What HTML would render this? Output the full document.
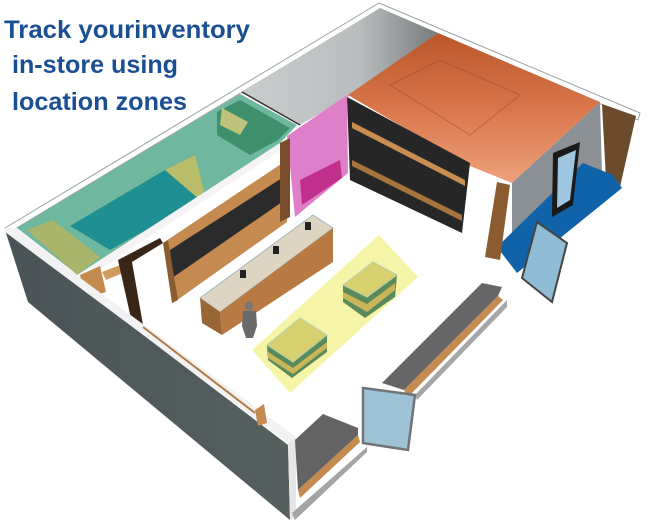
<!DOCTYPE html>
<html><head><meta charset="utf-8"><style>
html,body{margin:0;padding:0;background:#fff;width:648px;height:527px;overflow:hidden}
svg{display:block}
text{font-family:"Liberation Sans",sans-serif;font-weight:bold;fill:#1a4f94}
</style></head><body>
<svg width="648" height="527" viewBox="0 0 648 527" xmlns="http://www.w3.org/2000/svg">
<defs>
<linearGradient id="gw" x1="0" y1="0" x2="1" y2="0"><stop offset="0" stop-color="#c9cdcd"/><stop offset="0.6" stop-color="#b9bdbd"/><stop offset="1" stop-color="#767b7b"/></linearGradient>
<linearGradient id="go" x1="0" y1="0" x2="0" y2="1"><stop offset="0" stop-color="#b9562a"/><stop offset="0.5" stop-color="#d8764a"/><stop offset="1" stop-color="#eea07c"/></linearGradient>
<linearGradient id="glw" x1="0" y1="0" x2="1" y2="0"><stop offset="0" stop-color="#4a5356"/><stop offset="1" stop-color="#56605f"/></linearGradient>
</defs>
<!-- outer rim -->
<polygon points="5,228 379,3 640,113 638,120 380,9 10,232" fill="#fff" stroke="#9aa0a0" stroke-width="1"/>
<!-- storage gray -->
<polygon points="242,92 380,8 438,33 348,97 300,125" fill="url(#gw)"/>
<line x1="242" y1="92" x2="300" y2="125" stroke="#333" stroke-width="1.5"/>
<!-- green zone -->
<polygon points="17,228 240,94 297,125 280,143 78,275" fill="#6fb79e"/>
<polygon points="217,112 240,100 290,128 278,140 250,155 217,135" fill="#3e8f6c"/>
<polygon points="27,230 53,220 100,257 77,275" fill="#a8b56a"/>
<polygon points="70,226 165,170 200,186 200,200 110,250" fill="#1f8f92"/>
<polygon points="165,170 195,155 205,195 200,200" fill="#b9bd6a"/>
<polygon points="222,108 248,122 240,135 220,125" fill="#bfc27a"/>
<!-- partition strip -->
<polygon points="77,275 280,143 286,147 83,280" fill="#f4f4f4"/>
<!-- pink -->
<polygon points="287,136 347,95 348,173 295,217" fill="#e07fc9"/>
<polygon points="300,180 340,160 342,178 302,205" fill="#c0308a"/>
<!-- orange -->
<polygon points="348,95 438,33 600,102 512,183 470,166" fill="url(#go)"/>
<polygon points="390,85 440,60 520,95 470,135" fill="none" stroke="#9e4a24" stroke-width="1" opacity="0.5"/>
<!-- black panel -->
<polygon points="347,97 470,163 462,233 350,180" fill="#262626"/>
<polygon points="352,122 465,180 465,186 352,128" fill="#c98e52"/>
<polygon points="352,160 462,215 462,221 352,166" fill="#a8733f"/>
<!-- gray right wall -->
<polygon points="512,183 600,102 602,175 512,245" fill="#8b9094"/>
<polygon points="602,104 636,116 620,187 606,180" fill="#6b4b2c"/>
<!-- blue -->
<polygon points="497,247 583,163 613,175 622,188 517,273" fill="#1063a8"/>
<polygon points="553,153 580,142 573,205 552,217" fill="#1a1a1a"/>
<polygon points="558,158 576,150 570,200 557,208" fill="#9ec6e0"/>
<!-- wood pillar -->
<polygon points="485,257 497,182 510,185 500,260" fill="#8a5c30"/>
<!-- glass door right -->
<polygon points="522,278 537,222 567,243 552,302" fill="#8fbcd4" stroke="#444" stroke-width="2"/>
<!-- cabinet wall -->
<polygon points="163,243 287,160 287,222 173,303" fill="#c48a50"/>
<polygon points="170,250 282,178 282,202 172,278" fill="#2b2b2b"/>
<polygon points="280,143 290,138 290,217 280,222" fill="#7a4e2a"/>
<!-- left interior small cabinets / door -->
<polygon points="80,275 100,266 106,292 86,298" fill="#c48a50"/>
<polygon points="102,272 128,262 130,270 106,280" fill="#d09a60"/>
<polygon points="118,260 160,238 163,243 132,262 143,325 132,323" fill="#3a2618"/>
<polygon points="163,243 168,240 178,300 172,303" fill="#8a5c30"/>
<!-- counter -->
<polygon points="200,298 313,215 333,228 220,312" fill="#ddd5c2" stroke="#9fb7c0" stroke-width="1"/>
<polygon points="220,312 333,228 333,262 222,335" fill="#b87a42"/>
<polygon points="200,298 220,312 222,335 202,323" fill="#9a6534"/>
<rect x="305" y="222" width="6" height="8" fill="#222"/><rect x="273" y="246" width="6" height="8" fill="#222"/><rect x="240" y="270" width="6" height="8" fill="#222"/>
<!-- person -->
<ellipse cx="249" cy="306" rx="4" ry="5" fill="#777"/>
<polygon points="243,311 256,311 257,326 253,338 246,338 242,326" fill="#6a6a6a"/>
<!-- yellow zone -->
<polygon points="252,350 379,235 418,277 290,393" fill="#f6f4a6"/>
<!-- table 1 -->
<polygon points="343,285 373,262 397,275 395,297 365,318 343,302" fill="#5a8a5a"/>
<polygon points="343,285 373,262 397,275 367,297" fill="#d8cf6e" stroke="#b7d0b0"/>
<polygon points="343,292 367,304 395,283 395,290 367,312 343,298" fill="#c9b55a"/>
<!-- table 2 -->
<polygon points="267,345 300,318 327,335 327,352 292,378 268,360" fill="#5a8a5a"/>
<polygon points="267,345 300,318 327,335 293,362" fill="#d8cf6e" stroke="#b7d0b0"/>
<polygon points="268,352 293,368 327,342 327,348 293,374 268,358" fill="#c9b55a"/>
<!-- left wall face -->
<polygon points="5,230 288,445 290,520 28,302" fill="url(#glw)"/>
<polygon points="5,228 17,228 83,280 296,437 291,445 5,232" fill="#f2f2f2"/>
<line x1="143" y1="327" x2="255" y2="413" stroke="#b07a45" stroke-width="2"/>
<polygon points="255,410 264,404 267,423 258,426" fill="#c48a50"/>
<polygon points="288,443 296,438 296,517 290,520" fill="#e6e6e6"/>
<!-- lower bench -->
<polygon points="295,440 323,414 358,428 358,435 298,490" fill="#636363"/>
<polygon points="298,490 358,435 360,442 300,498" fill="#c48a50"/>
<polygon points="292,513 367,447 367,452 295,520" fill="#a4a4a4"/>
<!-- long bench -->
<polygon points="382,383 482,283 502,287 498,296 404,390" fill="#666"/>
<polygon points="404,390 498,296 503,300 408,397" fill="#c48a50"/>
<polygon points="415,395 507,300 507,307 417,400" fill="#a6a6a6"/>
<!-- front glass door -->
<polygon points="363,388 415,395 408,450 363,443" fill="#9ec3d6" stroke="#6f7478" stroke-width="2.5"/>
<!-- title -->
<text x="4" y="38" font-size="25" textLength="246" lengthAdjust="spacingAndGlyphs">Track yourinventory</text>
<text x="12" y="73" font-size="25" textLength="166" lengthAdjust="spacingAndGlyphs">in-store using</text>
<text x="12" y="110" font-size="25" textLength="175" lengthAdjust="spacingAndGlyphs">location zones</text>
</svg>
</body></html>
